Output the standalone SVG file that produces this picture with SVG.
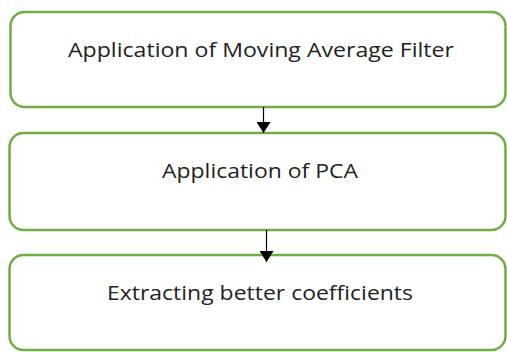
<svg xmlns="http://www.w3.org/2000/svg" width="507" height="352" viewBox="0 0 507 352">
<style>
.box{fill:#ffffff;stroke:#70ad47;stroke-width:2.5}
.lbl{font-family:"Open Sans","Liberation Sans",sans-serif;font-size:19.5px;fill:#222222;text-anchor:middle}
.conn{stroke:#000000;stroke-width:1.2;fill:none}
</style>
<defs>
<marker id="ah" viewBox="0 0 10 10" refX="10" refY="5" markerUnits="userSpaceOnUse" markerWidth="11" markerHeight="14" orient="auto" preserveAspectRatio="none">
<path d="M0,0 L10,5 L0,10 Z" fill="#000000"/>
</marker>
</defs>
<rect width="507" height="352" fill="#ffffff"/>
<g id="node1">
<rect class="box" x="10.5" y="12" width="495" height="95" rx="14"/>
<text class="lbl" x="261" y="57" textLength="386" lengthAdjust="spacingAndGlyphs">Application of Moving Average Filter</text>
</g>
<g id="node2">
<rect class="box" x="9.5" y="133" width="496" height="97" rx="14"/>
<text class="lbl" x="260" y="178" textLength="196" lengthAdjust="spacingAndGlyphs">Application of PCA</text>
</g>
<g id="node3">
<rect class="box" x="9.5" y="255" width="496" height="95" rx="14"/>
<text class="lbl" x="260" y="300" textLength="306" lengthAdjust="spacingAndGlyphs">Extracting better coefficients</text>
</g>
<g id="connectors">
<line class="conn" x1="263.5" y1="107" x2="263.5" y2="133" marker-end="url(#ah)"/>
<line class="conn" x1="266.5" y1="230" x2="266.5" y2="262" marker-end="url(#ah)"/>
</g>
</svg>
